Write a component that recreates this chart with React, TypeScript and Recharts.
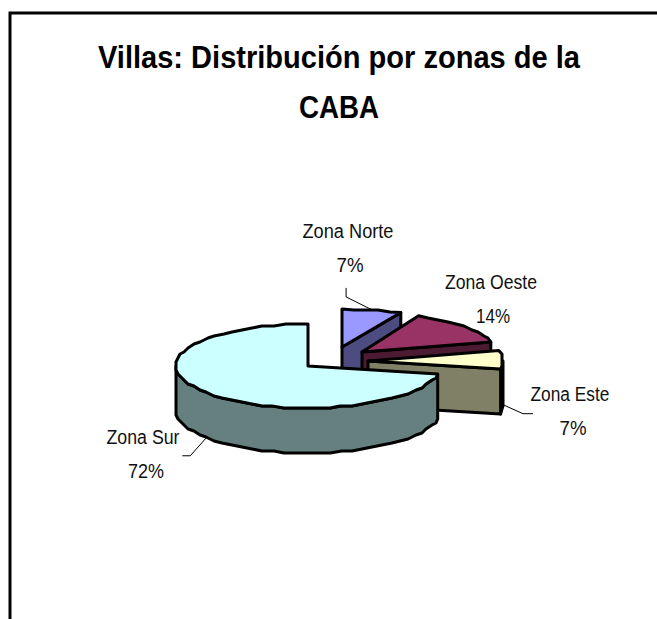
import React from "react";
import { PieChart, Pie } from "recharts";

const zones = ["Zona Norte", "Zona Oeste", "Zona Este", "Zona Sur"];
const shares = [7, 14, 7, 72];
const topColors = ["#9999FF", "#993366", "#FFFFCC", "#CCFFFF"];
const wallColors = ["#4C4C80", "#4D1A33", "#808066", "#668080"];

const tableData = zones.map((name, i) => ({ name, value: shares[i], fill: topColors[i] }));

// how far each slice is pulled out of the pie and how it is flattened, in px
const explode: Record<string, { dx: number; dy: number; rx: number; ry: number }> = {
  "Zona Norte": { dx: 34, dy: -19, rx: 138, ry: 38 },
  "Zona Oeste": { dx: 54, dy: -14, rx: 133, ry: 40 },
  "Zona Este": { dx: 60, dy: -5, rx: 135, ry: 42 },
  "Zona Sur": { dx: 0, dy: 0, rx: 132, ry: 42 },
};

const DEPTH = 45;
const ARC_STEP = 5;
// the original outlines are jagged, so snap the rim to a coarse grid
const snap = (v: number, grid: number) => Math.round(v / grid) * grid;

// label text centres and leader line bends, relative to the slice anchor
const labelLayout: Record<string, any> = {
  "Zona Norte": { x: 348, y: 238, px: 350, w: 91, pw: 27, elbow: [-26, -13], end: [-26, -22], wall: false },
  "Zona Oeste": { x: 491, y: 289, px: 493, w: 92, pw: 34 },
  "Zona Este": { x: 570, y: 401, px: 573, w: 79, pw: 27, elbow: [20, 9], end: [30, 9], wall: true },
  "Zona Sur": { x: 143, y: 444, px: 146, w: 73, pw: 36, elbow: [-16, 18], end: [-24, 18], wall: true },
};

const FONT = '"Liberation Sans", Arial, sans-serif';

const rimPoint = (x: number, y: number, rx: number, ry: number, clock: number) => {
  const a = (clock * Math.PI) / 180;
  return [x + rx * Math.sin(a), y - ry * Math.cos(a)];
};

const arcPoints = (x: number, y: number, rx: number, ry: number, from: number, to: number) => {
  const pts: number[][] = [];
  const n = Math.max(1, Math.round((to - from) / ARC_STEP));
  for (let i = 0; i <= n; i++) {
    const p = rimPoint(x, y, rx, ry, from + ((to - from) * i) / n);
    pts.push(i === 0 || i === n ? p : [snap(p[0], 2), snap(p[1], 2)]);
  }
  return pts;
};

const toPath = (pts: number[][]) =>
  "M" + pts.map((p) => `${p[0].toFixed(1)},${p[1].toFixed(1)}`).join("L") + "Z";

const Slice3D = (props: any) => {
  const { cx, cy, startAngle, endAngle, fill } = props;
  const name = props.name ?? props.payload?.name;
  const { dx, dy, rx, ry } = explode[name];
  const x = cx + dx;
  const y = cy + dy;
  const from = 90 - startAngle;
  const to = 90 - endAngle;
  const wall = wallColors[zones.indexOf(name)];
  const line = { stroke: "#000", strokeWidth: 3, strokeLinejoin: "round" as const };

  const faces: React.ReactNode[] = [];
  // rim wall, only the part that faces the viewer
  const wallFrom = Math.max(from, 90);
  const wallTo = Math.min(to, 270);
  if (wallTo > wallFrom) {
    const rim = arcPoints(x, y, rx, ry, wallFrom, wallTo);
    const low = rim.map((p) => [p[0], p[1] + DEPTH]).reverse();
    faces.push(<path key="rim" d={toPath([...rim, ...low])} fill={wall} {...line} />);
  }
  // cut faces
  [from, to].forEach((angle, i) => {
    const sin = Math.sin((angle * Math.PI) / 180);
    if ((i === 0 && sin < -1e-6) || (i === 1 && sin > 1e-6)) {
      const p = rimPoint(x, y, rx, ry, angle);
      faces.push(
        <path
          key={`cut${i}`}
          d={toPath([[x, y], p, [p[0], p[1] + DEPTH], [x, y + DEPTH]])}
          fill={wall}
          {...line}
        />
      );
    }
  });
  const top = [[x, y], ...arcPoints(x, y, rx, ry, from, to)];
  return (
    <g>
      {faces}
      <path d={toPath(top)} fill={fill} {...line} />
    </g>
  );
};

const renderLabel = (props: any) => {
  const { cx, cy, midAngle, name, value } = props;
  const cfg = labelLayout[name];
  const { dx, dy, rx, ry } = explode[name];
  const [ax, ay] = rimPoint(cx + dx, cy + dy, rx, ry, 90 - midAngle);
  const anchorY = cfg.wall ? ay + DEPTH : ay;
  const common = { fontFamily: FONT, fontSize: 20, fill: "#111", textAnchor: "middle" as const, lengthAdjust: "spacingAndGlyphs" };
  return (
    <g>
      {cfg.elbow && (
        <polyline
          points={`${ax},${anchorY} ${ax + cfg.elbow[0]},${anchorY + cfg.elbow[1]} ${ax + cfg.end[0]},${anchorY + cfg.end[1]}`}
          fill="none"
          stroke="#000"
          strokeWidth={1}
        />
      )}
      <text x={cfg.x} y={cfg.y} textLength={cfg.w} {...common}>{name}</text>
      <text x={cfg.px} y={cfg.y + 34} textLength={cfg.pw} {...common}>{`${value}%`}</text>
    </g>
  );
};

export default function App() {
  return (
    <div style={{ position: "absolute", left: 0, top: 0, width: 657, height: 619, overflow: "hidden", background: "#fff" }}>
      <PieChart width={657} height={619} margin={{ top: 0, right: 0, bottom: 0, left: 0 }}>
        <rect x={10} y={13} width={700} height={700} fill="none" stroke="#000" strokeWidth={3} />
        <text x={339} y={68} textAnchor="middle" textLength={482} lengthAdjust="spacingAndGlyphs" fontFamily={FONT} fontWeight="bold" fontSize={31} fill="#000">
          Villas: Distribución por zonas de la
        </text>
        <text x={339} y={118} textAnchor="middle" textLength={80} lengthAdjust="spacingAndGlyphs" fontFamily={FONT} fontWeight="bold" fontSize={31} fill="#000">
          CABA
        </text>
        <Pie
          data={tableData}
          dataKey="value"
          nameKey="name"
          cx={308}
          cy={366}
          outerRadius={132}
          startAngle={90}
          endAngle={-270}
          isAnimationActive={false}
          shape={Slice3D}
          label={renderLabel}
          labelLine={false}
        />
      </PieChart>
    </div>
  );
}
